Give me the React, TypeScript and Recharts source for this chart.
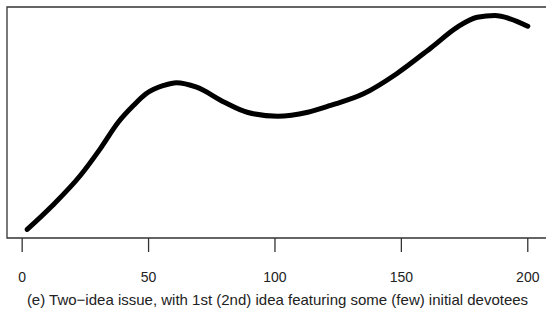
import React from "react"
import { LineChart, Line, XAxis, YAxis, ReferenceArea } from "recharts"

// (y = share of the second idea, peak ~ 1)
const steps = [2, 12, 23, 31, 38, 44, 49, 56, 61, 69, 80, 89, 101, 113, 122, 135, 148, 162, 172, 180, 187, 193, 200]
const share = [0, 0.112, 0.252, 0.379, 0.501, 0.579, 0.634, 0.673, 0.686, 0.665, 0.595, 0.548, 0.529, 0.548, 0.58, 0.634, 0.727, 0.852, 0.945, 0.992, 1.0, 0.985, 0.95]
const xTicks = [0, 50, 100, 150, 200]
const caption = "(e) Two\u2212idea issue, with 1st (2nd) idea featuring some (few) initial devotees"

const data = steps.map((t, i) => ({ t, v: share[i] }))

const font = "'Liberation Sans', Arial, sans-serif"

export default function App() {
  return (
    <div style={{ position: "absolute", left: 0, top: 0, width: 546, height: 314, overflow: "hidden", background: "#fff" }}>
      <LineChart width={556} height={314} data={data} margin={{ top: 7, left: 7, right: 8, bottom: 0 }}>
        <XAxis
          dataKey="t"
          type="number"
          domain={[-6, 208]}
          ticks={xTicks}
          axisLine={false}
          tickSize={14}
          tickMargin={20}
          tickLine={{ stroke: "#333", strokeWidth: 1.3 }}
          tick={{ fill: "#222", fontSize: 14, fontFamily: font }}
          height={76}
          label={{
            content: (props: any) => {
              const vb = props.viewBox || {}
              return (
                <text
                  x={vb.x + vb.width / 2}
                  y={305}
                  textAnchor="middle"
                  fill="#222"
                  fontSize={15}
                  fontFamily={font}
                >
                  {caption}
                </text>
              )
            },
          }}
        />
        <YAxis hide type="number" domain={[-0.04, 1.04]} />
        <ReferenceArea
          x1={-6}
          x2={208}
          y1={-0.04}
          y2={1.04}
          fill="none"
          stroke="#333"
          strokeWidth={1.3}
          ifOverflow="visible"
        />
        <Line
          type="monotone"
          dataKey="v"
          stroke="#000"
          strokeWidth={5}
          strokeLinecap="round"
          dot={false}
          isAnimationActive={false}
        />
      </LineChart>
    </div>
  )
}
